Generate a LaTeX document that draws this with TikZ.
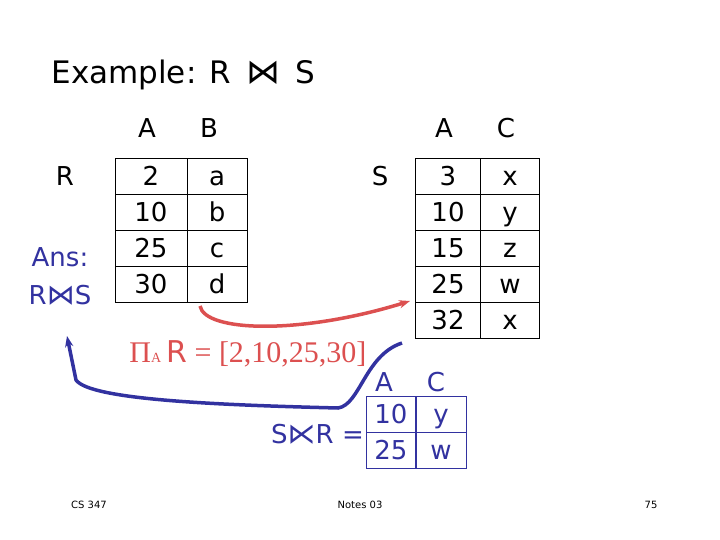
\documentclass[tikz,border=0pt]{standalone}
\usepackage{fontspec}
\setmainfont{DejaVu Sans}
\newfontfamily\timesfont{Liberation Serif}
\usetikzlibrary{positioning, arrows.meta}
\definecolor{ansblue}{RGB}{50,50,160}
\definecolor{projred}{RGB}{220,80,80}
\tikzset{
  cell/.style={draw, minimum width=#1, minimum height=36pt, inner sep=0pt, text height=22pt, text depth=3pt, font=\fontsize{26}{26}\selectfont},
  cell/.default=66pt,
  lbl/.style={font=\fontsize{26}{26}\selectfont, inner sep=0pt},
}
\begin{document}
\begin{tikzpicture}[x=1pt, y=-1pt]
  \useasboundingbox (0,0) rectangle (720,540);
  \node[anchor=west, font=\fontsize{31}{31}\selectfont] (title) at (48,75) {Example: R \,{\fontsize{34}{34}\selectfont ⋈}\, S};

  % relation R
  \foreach \a/\b [count=\i] in {2/a,10/b,25/c,30/d} {
    \node[cell=72pt] (ra\i) at (151,140+36*\i) {\a};
    \node[cell=60pt] (rb\i) at (217,140+36*\i) {\b};
  }
  \node[lbl] (rA) at (147,128) {A};
  \node[lbl] (rB) at (209,128) {B};
  \node[lbl] (rname) at (65,176) {R};

  % relation S
  \foreach \a/\c [count=\i] in {3/x,10/y,15/z,25/w,32/x} {
    \node[cell=65pt] (sa\i) at (448,140+36*\i) {\a};
    \node[cell=59pt] (sc\i) at (510,140+36*\i) {\c};
  }
  \node[lbl] (sA) at (444,128) {A};
  \node[lbl] (sC) at (506,128) {C};
  \node[lbl] (sname) at (380,176) {S};

  % answer
  \node[lbl, text=ansblue] (ans) at (60,257) {Ans:};
  \node[lbl, text=ansblue] (ansjoin) at (60,295) {R{\fontsize{28}{28}\selectfont ⋈}S};

  % projection
  \node[text=projred, inner sep=0pt, font=\timesfont\fontsize{30}{30}\selectfont] (proj) at (248,354)
    {Π{\fontsize{14}{14}\selectfont A}\,{\fontspec{DejaVu Sans}R} = [2,10,25,30]};

  % semijoin result
  \foreach \a/\c [count=\i] in {10/y,25/w} {
    \node[cell=49pt, draw=ansblue, text=ansblue] (ta\i) at (391,378+36*\i) {\a};
    \node[cell=50pt, draw=ansblue, text=ansblue] (tc\i) at (441,378+36*\i) {\c};
  }
  \node[lbl, text=ansblue] (tA) at (384,382) {A};
  \node[lbl, text=ansblue] (tC) at (436,382) {C};
  \node[lbl, text=ansblue, anchor=east] (semi) at (364,434) {S{\fontsize{28}{28}\selectfont ⋉}R =};

  \coordinate (redtip) at (410,301);
  \coordinate (bluetip) at (67,336);
  \draw[projred, line width=3.5pt, -{Stealth[length=11pt]}] (200,306)
    .. controls (205,332) and (300,335) .. (redtip);
  \draw[ansblue, line width=3.5pt, -{Stealth[length=11pt]}] (402,343)
    .. controls (365,355) and (360,405) .. (338,408)
    .. controls (220,405) and (90,400) .. (76,380) -- (bluetip);

  \node[font=\fontsize{10}{10}\selectfont] (cs) at (89,505) {CS 347};
  \node[font=\fontsize{10}{10}\selectfont] (notes) at (360,505) {Notes 03};
  \node[font=\fontsize{10}{10}\selectfont] (page) at (651,505) {75};
\end{tikzpicture}
\end{document}
